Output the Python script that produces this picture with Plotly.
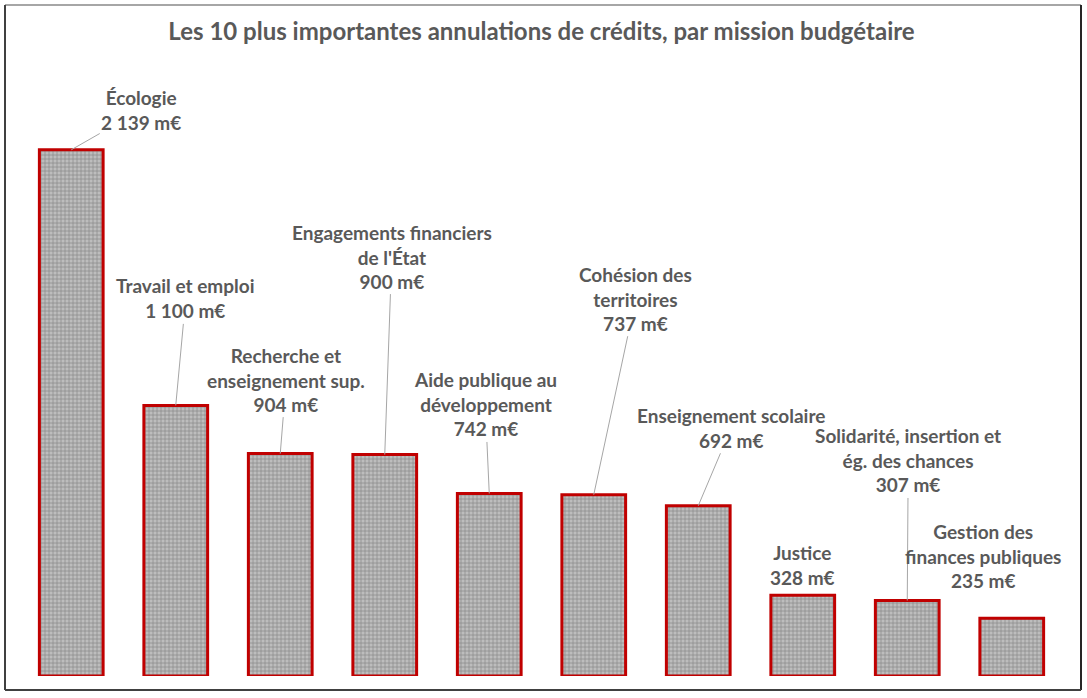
import plotly.graph_objects as go

# ---- data ----
missions = ["Écologie", "Travail et emploi", "Recherche et<br>enseignement sup.",
            "Engagements financiers<br>de l'État", "Aide publique au<br>développement",
            "Cohésion des<br>territoires", "Enseignement scolaire", "Justice",
            "Solidarité, insertion et<br>ég. des chances", "Gestion des<br>finances publiques"]
values = [2139, 1100, 904, 900, 742, 737, 692, 328, 307, 235]
value_labels = ["2 139 m€", "1 100 m€", "904 m€", "900 m€", "742 m€",
                "737 m€", "692 m€", "328 m€", "307 m€", "235 m€"]

# ---- layout helpers (pixel offsets of labels from bar tops) ----
label_ax = [70, 10, 6, 7, -4, 42, 33, 0, 1, -29]
label_ay = [-40, -107, -74, -198, -89, -196, -78, -30, -140, -62]
show_leader = [True, True, True, True, True, True, True, False, True, False]

W, H = 1087, 698
ML, MR, MT, MB = 19, 23, 61, 22
YMAX = 2500
FONT = "Lato"
TXT = "#595959"

x_idx = list(range(len(values)))

fig = go.Figure(go.Bar(
    x=x_idx, y=values, width=0.61,
    marker=dict(
        color="#a8a8a8",
        line=dict(color="#c00000", width=3),
        pattern=dict(shape="+", fgcolor="#5a5a5a", bgcolor="#bdbdbd", size=4, solidity=0.35),
    ),
    hoverinfo="skip",
))

annotations = []
for i, (m, v, lab) in enumerate(zip(missions, values, value_labels)):
    annotations.append(dict(
        x=i, y=v, xref="x", yref="y",
        text=f"<b>{m}<br>{lab}</b>",
        showarrow=True, arrowhead=0, arrowwidth=1,
        arrowcolor="#a6a6a6" if show_leader[i] else "rgba(0,0,0,0)",
        ax=label_ax[i], ay=label_ay[i], standoff=0,
        font=dict(family=FONT, size=19, color=TXT),
        align="center",
    ))

# frame around the chart
pw = W - ML - MR
ph = H - MT - MB
def px2x(px):
    return (px - ML) / pw
def py2y(py):
    return (H - MB - py) / ph
fl, fr, ft, fb = px2x(5), px2x(1081), py2y(5), py2y(690)
shapes = [
    dict(type="line", xref="paper", yref="paper", x0=fl, x1=fr, y0=ft, y1=ft, line=dict(color="#a6a6a6", width=2)),
    dict(type="line", xref="paper", yref="paper", x0=fl, x1=fl, y0=ft, y1=fb, line=dict(color="#404040", width=2)),
    dict(type="line", xref="paper", yref="paper", x0=fr, x1=fr, y0=ft, y1=fb, line=dict(color="#262626", width=2)),
    dict(type="line", xref="paper", yref="paper", x0=fl, x1=fr, y0=fb, y1=fb, line=dict(color="#404040", width=2)),
]

fig.update_layout(
    width=W, height=H,
    margin=dict(l=ML, r=MR, t=MT, b=MB),
    paper_bgcolor="white", plot_bgcolor="white",
    title=dict(text="<b>Les 10 plus importantes annulations de crédits, par mission budgétaire</b>",
               x=0.5, xanchor="center", xref="paper", y=1 - 32 / H, yanchor="middle", yref="container",
               font=dict(family=FONT, size=24, color=TXT)),
    xaxis=dict(range=[-0.5, len(values) - 0.5], visible=False, fixedrange=True),
    yaxis=dict(range=[0, YMAX], visible=False, fixedrange=True),
    showlegend=False,
    annotations=annotations,
    shapes=shapes,
)

fig.write_html("out.html")
